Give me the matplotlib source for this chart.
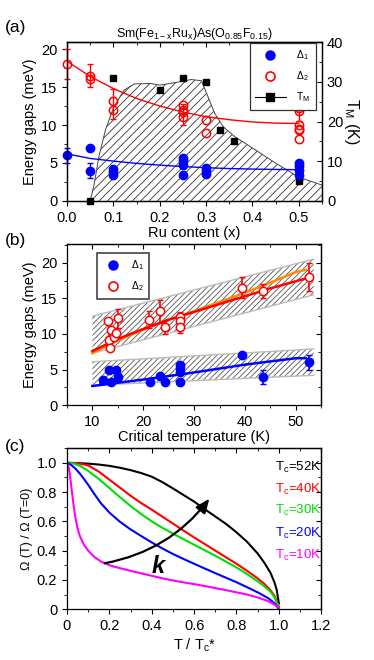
import numpy as np
import matplotlib
matplotlib.use("Agg")
import matplotlib.pyplot as plt
from matplotlib.lines import Line2D
from matplotlib.ticker import MultipleLocator, FuncFormatter, FormatStrFormatter

plt.rcParams["font.family"] = ["Liberation Sans", "DejaVu Sans"]
plt.rcParams["mathtext.fontset"] = "custom"
plt.rcParams["mathtext.rm"] = "Liberation Sans"
plt.rcParams["mathtext.it"] = "Liberation Sans:italic"
plt.rcParams["hatch.linewidth"] = 0.6
plt.rcParams["axes.linewidth"] = 0.9

TICK_FS = 10.5
LABEL_FS = 10.5

# ---- panel (a): gaps vs Ru content ----
d1_x = [0, 0.05, 0.05, 0.1, 0.1, 0.1, 0.25, 0.25, 0.25, 0.25, 0.3, 0.3, 0.3, 0.5, 0.5, 0.5, 0.5]
d1_y = [6.0, 7.0, 4.0, 4.2, 3.8, 3.4, 5.6, 5.2, 4.8, 3.4, 4.3, 4.0, 3.6, 5.0, 4.6, 4.1, 3.4]
d1_err_x = [0, 0.05]
d1_err_y = [6.0, 4.0]
d1_err = [1.0, 1.0]

d2_x = [0, 0.05, 0.05, 0.1, 0.1, 0.25, 0.25, 0.25, 0.25, 0.3, 0.3, 0.5, 0.5, 0.5, 0.5, 0.5, 0.5]
d2_y = [18.1, 16.5, 16.0, 13.1, 12.0, 12.6, 12.0, 11.7, 11.0, 10.6, 9.0, 12.2, 11.9, 10.0, 9.5, 9.3, 8.1]
d2_err_x = [0, 0.05, 0.1, 0.25, 0.5]
d2_err_y = [18.0, 16.5, 12.8, 11.4, 12.0]
d2_err = [2.0, 1.5, 2.0, 1.4, 1.5]

fit1_x = [0, 0.05, 0.1, 0.15, 0.2, 0.25, 0.3, 0.35, 0.4, 0.45, 0.5]
fit1_y = [6.2, 5.6, 5.25, 4.95, 4.72, 4.53, 4.38, 4.27, 4.2, 4.15, 4.12]
fit2_x = [0, 0.05, 0.1, 0.15, 0.2, 0.25, 0.3, 0.35, 0.4, 0.45, 0.5]
fit2_y = [18.4, 16.4, 14.8, 13.5, 12.5, 11.7, 11.1, 10.7, 10.4, 10.25, 10.2]

tm_x = [0.05, 0.1, 0.2, 0.25, 0.3, 0.33, 0.36, 0.5]
tm_y = [0, 31, 28, 31, 30, 18, 15, 5]

tm_curve_x = [0.05, 0.058, 0.069, 0.083, 0.101, 0.123, 0.145, 0.181, 0.2, 0.232, 0.268,
              0.29, 0.304, 0.319, 0.337, 0.362, 0.406, 0.449, 0.5, 0.55]
tm_curve_y = [0, 3.8, 11.2, 17.9, 23.7, 27.9, 29.5, 29.6, 29.2, 29.8, 30.6,
              30.3, 26.3, 22.0, 18.7, 16.2, 12.9, 9.6, 6.0, 4.0]

# ---- panel (b): gaps vs Tc ----
b1_tc = [12, 13.3, 13.7, 14.7, 15.1, 21.3, 23.3, 24.3, 27.3, 27.3, 27.3, 27.3, 39.5, 43.5, 52.5]
b1_y = [3.5, 5.0, 3.2, 5.0, 4.0, 3.3, 4.1, 3.3, 5.7, 5.2, 4.7, 3.3, 7.0, 4.0, 6.0]
b1_err_tc = [43.5, 52.5]
b1_err_y = [4.0, 6.0]
b1_err = [1.0, 1.0]

b2_tc = [13.1, 13.2, 13.5, 13.7, 14.2, 14.7, 15.1, 21.2, 23.3, 24.3, 27.3, 27.3, 27.3, 39.5, 43.5, 52.5]
b2_y = [11.8, 9.1, 8.0, 10.6, 9.6, 10.1, 12.2, 12.0, 13.2, 11.0, 12.4, 11.8, 11.0, 16.5, 16.0, 18.0]
b2_err_tc = [13.2, 15.1, 21.2, 23.3, 24.3, 27.3, 39.5, 43.5, 52.5]
b2_err_y = [10.5, 12.2, 12.0, 13.2, 11.0, 11.6, 16.5, 16.0, 18.0]
b2_err = [1.3, 1.3, 1.2, 1.6, 1.0, 1.5, 1.5, 1.0, 2.0]

band_tc = [10, 53.5]
band_hi_top = [12.5, 20.5]
band_hi_bot = [7.3, 15.5]
band_lo_top = [6.1, 7.9]
band_lo_bot = [2.8, 4.2]

fitb_red_tc = [10, 15, 20, 25, 30, 35, 40, 45, 52]
fitb_red_y = [7.6, 9.3, 10.7, 12.0, 13.1, 14.2, 15.3, 16.4, 17.8]
fitb_org_tc = [10, 15, 20, 25, 30, 35, 40, 45, 50, 52]
fitb_org_y = [7.3, 9.1, 10.6, 12.0, 13.2, 14.5, 15.8, 17.2, 18.7, 19.0]
fitb_blue_tc = [10, 20, 30, 40, 50, 52]
fitb_blue_y = [2.7, 3.6, 4.6, 5.7, 6.6, 6.6]

# ---- panel (c): normalised superfluid density ----
c_labels = ["T$_{\\rm c}$=52K", "T$_{\\rm c}$=40K", "T$_{\\rm c}$=30K", "T$_{\\rm c}$=20K", "T$_{\\rm c}$=10K"]
c_colors = ["black", "red", "#00dd00", "blue", "magenta"]
c_label_y = [0.965, 0.815, 0.675, 0.52, 0.37]
t52 = [0, 0.05, 0.1, 0.15, 0.2, 0.25, 0.3, 0.35, 0.4, 0.45, 0.5, 0.55, 0.6, 0.65,
       0.7, 0.75, 0.8, 0.85, 0.9, 0.93, 0.96, 0.98, 0.99, 1.0]
r52 = [1.0, 0.998, 0.994, 0.988, 0.979, 0.966, 0.95, 0.93, 0.905, 0.868, 0.825, 0.78,
       0.735, 0.683, 0.633, 0.583, 0.525, 0.46, 0.38, 0.32, 0.25, 0.18, 0.13, 0.04]
t40 = [0, 0.05, 0.1, 0.15, 0.2, 0.25, 0.3, 0.35, 0.4, 0.45, 0.5, 0.55, 0.6, 0.65,
       0.7, 0.75, 0.8, 0.85, 0.9, 0.93, 0.96, 0.98, 1.0]
r40 = [1.0, 0.997, 0.982, 0.94, 0.885, 0.83, 0.775, 0.725, 0.68, 0.632, 0.585, 0.537,
       0.49, 0.445, 0.4, 0.355, 0.31, 0.262, 0.21, 0.175, 0.13, 0.09, 0.02]
t30 = [0, 0.03, 0.06, 0.1, 0.15, 0.2, 0.25, 0.3, 0.35, 0.4, 0.45, 0.5, 0.55, 0.6, 0.65,
       0.7, 0.75, 0.8, 0.85, 0.9, 0.93, 0.96, 0.98, 1.0]
r30 = [1.0, 0.996, 0.98, 0.945, 0.89, 0.828, 0.765, 0.705, 0.65, 0.6, 0.556, 0.516,
       0.478, 0.44, 0.403, 0.365, 0.325, 0.285, 0.24, 0.19, 0.158, 0.12, 0.08, 0.01]
t20 = [0, 0.02, 0.04, 0.06, 0.08, 0.1, 0.13, 0.16, 0.2, 0.25, 0.3, 0.35, 0.4, 0.45,
       0.5, 0.55, 0.6, 0.65, 0.7, 0.75, 0.8, 0.85, 0.9, 0.95, 0.98, 1.0]
r20 = [1.0, 0.985, 0.96, 0.928, 0.89, 0.85, 0.785, 0.724, 0.66, 0.597, 0.545, 0.5,
       0.456, 0.415, 0.377, 0.343, 0.31, 0.278, 0.246, 0.215, 0.184, 0.15, 0.115,
       0.075, 0.04, 0.0]
t10 = [0, 0.005, 0.01, 0.015, 0.02, 0.03, 0.04, 0.05, 0.06, 0.08, 0.1, 0.13, 0.16, 0.2,
       0.25, 0.3, 0.35, 0.4, 0.45, 0.5, 0.55, 0.6, 0.65, 0.7, 0.75, 0.8, 0.85, 0.9,
       0.95, 0.98, 1.0]
r10 = [1.0, 0.985, 0.955, 0.905, 0.845, 0.725, 0.625, 0.553, 0.503, 0.44, 0.4, 0.356,
       0.326, 0.3, 0.28, 0.262, 0.245, 0.228, 0.211, 0.196, 0.183, 0.171, 0.158,
       0.144, 0.13, 0.115, 0.1, 0.08, 0.055, 0.03, 0.01]
c_x = [t52, t40, t30, t20, t10]
c_y = [r52, r40, r30, r20, r10]

fig = plt.figure(figsize=(3.74, 6.6), dpi=100)


def style_axis(ax):
    ax.tick_params(which="both", direction="out", top=False, right=False, labelsize=TICK_FS)
    ax.tick_params(which="major", length=3.5)
    ax.tick_params(which="minor", length=2)
    sec = ax.secondary_xaxis("top")
    sec.tick_params(which="both", direction="in", labeltop=False)
    sec.tick_params(which="major", length=3.5)
    sec.tick_params(which="minor", length=2)
    sec.xaxis.set_major_locator(ax.xaxis.get_major_locator())
    sec.xaxis.set_minor_locator(ax.xaxis.get_minor_locator())
    return sec


# (a)
ax_a = fig.add_axes([0.179, 0.6955, 0.682, 0.2405])
ax_t = ax_a.twinx()
ax_t.fill_between(tm_curve_x, 0, tm_curve_y, facecolor="none", edgecolor="#333333",
                  hatch="////", linewidth=0)
ax_t.plot(tm_curve_x, tm_curve_y, color="#444444", lw=0.7)
ax_t.plot(tm_x, tm_y, "ks", ms=4.5, ls="none", clip_on=False)
ax_t.set_ylim(0, 40)
ax_t.yaxis.set_major_locator(MultipleLocator(10))
ax_t.yaxis.set_minor_locator(MultipleLocator(5))
ax_t.tick_params(which="both", direction="in", labelsize=TICK_FS)
ax_t.tick_params(which="major", length=3.5)
ax_t.tick_params(which="minor", length=2)
ax_t.set_ylabel("T$_{\\rm M}$ (K)", rotation=270, fontsize=LABEL_FS + 1, labelpad=13)

ax_a.set_zorder(ax_t.get_zorder() + 1)
ax_a.patch.set_visible(False)
ax_a.plot(fit2_x, fit2_y, color="red", lw=1)
ax_a.plot(fit1_x, fit1_y, color="blue", lw=1)
ax_a.errorbar(d2_err_x, d2_err_y, yerr=d2_err, fmt="none", ecolor="red", elinewidth=1,
              capsize=2.5, clip_on=False)
ax_a.errorbar(d1_err_x, d1_err_y, yerr=d1_err, fmt="none", ecolor="blue", elinewidth=1,
              capsize=2.5, clip_on=False)
ax_a.plot(d2_x, d2_y, "o", mfc="none", mec="red", mew=1.1, ms=6, clip_on=False)
ax_a.plot(d1_x, d1_y, "o", color="blue", ms=6, clip_on=False)
ax_a.set_xlim(0, 0.55)
ax_a.set_ylim(0, 20.9)
ax_a.xaxis.set_major_locator(MultipleLocator(0.1))
ax_a.xaxis.set_minor_locator(MultipleLocator(0.05))
ax_a.yaxis.set_major_locator(MultipleLocator(5))
ax_a.yaxis.set_minor_locator(MultipleLocator(2.5))
ax_a.xaxis.set_major_formatter(FormatStrFormatter("%.1f"))
style_axis(ax_a)
ax_a.set_xlabel("Ru content (x)", fontsize=LABEL_FS, labelpad=1)
ax_a.set_ylabel("Energy gaps (meV)", fontsize=LABEL_FS, labelpad=3)
ax_a.set_title("Sm(Fe$_{\\rm 1-x}$Ru$_{\\rm x}$)As(O$_{\\rm 0.85}$F$_{\\rm 0.15}$)",
               fontsize=9, pad=4)
handles_a = [
    Line2D([], [], marker="o", color="blue", ls="none", ms=6.5),
    Line2D([], [], marker="o", mfc="none", mec="red", mew=1.2, ls="none", ms=6.5),
    Line2D([], [], marker="s", color="black", lw=0.8, ms=5.5),
]
leg = ax_a.legend(handles_a, ["Δ$_{\\rm 1}$", "Δ$_{\\rm 2}$", "T$_{\\rm M}$"],
                  loc="upper right", bbox_to_anchor=(0.975, 0.994), fontsize=7.5,
                  fancybox=False, framealpha=1, edgecolor="#333333",
                  labelspacing=0.7, handlelength=3.0, borderaxespad=0,
                  borderpad=0.5, handletextpad=1.0)
leg.get_frame().set_linewidth(0.9)

# (b)
ax_b = fig.add_axes([0.179, 0.386, 0.68, 0.244])
for top, bot in [(band_hi_top, band_hi_bot), (band_lo_top, band_lo_bot)]:
    ax_b.fill_between(band_tc, bot, top, facecolor="none", edgecolor="#555555",
                      hatch="//////", linewidth=0)
    ax_b.plot(band_tc, top, color="#bbbbbb", lw=1)
    ax_b.plot(band_tc, bot, color="#bbbbbb", lw=1)
ax_b.plot(fitb_org_tc, fitb_org_y, color="#ff8c00", lw=1.8)
ax_b.plot(fitb_red_tc, fitb_red_y, color="red", lw=1.8)
ax_b.plot(fitb_blue_tc, fitb_blue_y, color="blue", lw=1.8)
ax_b.errorbar(b2_err_tc, b2_err_y, yerr=b2_err, fmt="none", ecolor="red", elinewidth=1.2,
              capsize=2.5)
ax_b.errorbar(b1_err_tc, b1_err_y, yerr=b1_err, fmt="none", ecolor="blue", elinewidth=1.2,
              capsize=2.5)
ax_b.plot(b2_tc, b2_y, "o", mfc="white", mec="red", mew=1.1, ms=6)
ax_b.plot(b1_tc, b1_y, "o", color="blue", ms=6)
ax_b.set_xlim(5, 55)
ax_b.set_ylim(0, 22.6)
ax_b.xaxis.set_major_locator(MultipleLocator(10))
ax_b.xaxis.set_minor_locator(MultipleLocator(5))
ax_b.yaxis.set_major_locator(MultipleLocator(5))
ax_b.yaxis.set_minor_locator(MultipleLocator(2.5))
style_axis(ax_b)
ax_b.set_xlabel("Critical temperature (K)", fontsize=LABEL_FS, labelpad=1)
ax_b.set_ylabel("Energy gaps (meV)", fontsize=LABEL_FS, labelpad=3)
handles_b = [
    Line2D([], [], marker="o", color="blue", ls="none", ms=6.5),
    Line2D([], [], marker="o", mfc="none", mec="red", mew=1.2, ls="none", ms=6.5),
]
leg_b = ax_b.legend(handles_b, ["Δ$_{\\rm 1}$", "Δ$_{\\rm 2}$"], loc="upper left",
                    bbox_to_anchor=(0.118, 0.944), fontsize=7.5, fancybox=False,
                    framealpha=1, edgecolor="#444444", labelspacing=0.7,
                    handlelength=2.0, borderaxespad=0, borderpad=0.5, handletextpad=0.8)
leg_b.get_frame().set_linewidth(1.2)

# (c)
ax_c = fig.add_axes([0.179, 0.077, 0.68, 0.244])
for xs, ys, col in zip(c_x, c_y, c_colors):
    ax_c.plot(xs, ys, color=col, lw=1.5)
for lab, ly, col in zip(c_labels, c_label_y, c_colors):
    ax_c.text(1.2, ly, lab, color=col, fontsize=9.5, ha="right", va="center")
ax_c.annotate("", xy=(0.68, 0.77), xytext=(0.165, 0.31),
              arrowprops=dict(arrowstyle="-|>,head_length=0.6,head_width=0.25",
                              color="black", lw=1.6,
                              mutation_scale=14, connectionstyle="arc3,rad=0.2"))
ax_c.text(0.43, 0.29, "k", fontsize=17, fontweight="bold", style="italic",
          ha="center", va="center")
ax_c.set_xlim(0, 1.2)
ax_c.set_ylim(0, 1.1)
ax_c.xaxis.set_major_locator(MultipleLocator(0.2))
ax_c.xaxis.set_minor_locator(MultipleLocator(0.1))
ax_c.yaxis.set_major_locator(MultipleLocator(0.2))
ax_c.yaxis.set_minor_locator(MultipleLocator(0.1))
zero_fmt = FuncFormatter(lambda v, p: "0" if abs(v) < 1e-9 else "%.1f" % v)
ax_c.xaxis.set_major_formatter(zero_fmt)
ax_c.yaxis.set_major_formatter(zero_fmt)
style_axis(ax_c)
ax_c.set_xlabel("T / T$_{\\rm c}$*", fontsize=LABEL_FS, labelpad=3)
ax_c.set_ylabel("Ω (T) / Ω (T=0)", fontsize=9, labelpad=3)

# right-side inward ticks on (b) and (c)
for ax in (ax_b, ax_c):
    sec_r = ax.secondary_yaxis("right")
    sec_r.tick_params(which="both", direction="in", labelright=False)
    sec_r.tick_params(which="major", length=3.5)
    sec_r.tick_params(which="minor", length=2)
    sec_r.yaxis.set_major_locator(ax.yaxis.get_major_locator())
    sec_r.yaxis.set_minor_locator(ax.yaxis.get_minor_locator())

fig.text(0.012, 0.958, "(a)", fontsize=12.5, va="center")
fig.text(0.012, 0.636, "(b)", fontsize=12.5, va="center")
fig.text(0.012, 0.324, "(c)", fontsize=12.5, va="center")

fig.savefig("out.png", dpi=100)
